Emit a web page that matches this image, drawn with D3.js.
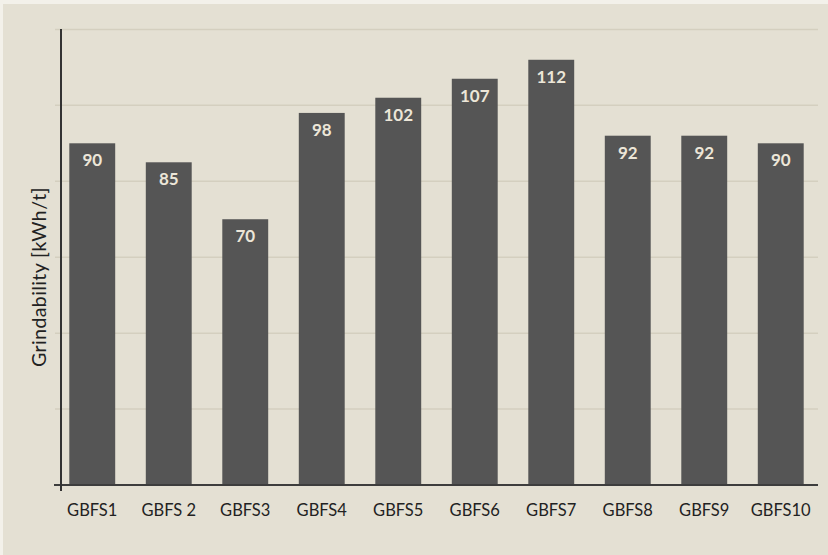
<!DOCTYPE html>
<html>
<head>
<meta charset="utf-8">
<script src="https://cdn.jsdelivr.net/npm/d3@7"></script>
<style>
  html, body { margin: 0; padding: 0; background: #e4e0d3; }
  svg { display: block; }
</style>
</head>
<body>
<svg id="chart" width="828" height="555"></svg>
<script>
// Grindability of each sample
const categories = ["GBFS1", "GBFS 2", "GBFS3", "GBFS4", "GBFS5", "GBFS6", "GBFS7", "GBFS8", "GBFS9", "GBFS10"];
const values = [90, 85, 70, 98, 102, 107, 112, 92, 92, 90];
const gridValues = [20, 40, 60, 80, 100, 120];
const yTitle = "Grindability [kWh/t]";

const svg = d3.select("#chart");
const W = 828, H = 555;

// frame
svg.append("rect").attr("width", W).attr("height", H).attr("fill", "#e4e0d3");
svg.append("rect").attr("x", 0).attr("y", 0).attr("width", W).attr("height", 4).attr("fill", "#f3f1ea");
svg.append("rect").attr("x", 0).attr("y", 0).attr("width", 3).attr("height", H).attr("fill", "#f3f1ea");

const x = d3.scaleBand().domain(categories).range([54, 819]).paddingInner(0.4).paddingOuter(0.2);
const y = d3.scaleLinear().domain([0, 120]).range([485, 29.4]);

// gridlines
svg.append("g").selectAll("line").data(gridValues).join("line")
  .attr("x1", 55).attr("x2", 818)
  .attr("y1", d => y(d)).attr("y2", d => y(d))
  .attr("stroke", "#d4cfbf").attr("stroke-width", 1.5);

// bars
svg.append("g").selectAll("rect").data(values).join("rect")
  .attr("x", (d, i) => x(categories[i]))
  .attr("y", d => y(d))
  .attr("width", x.bandwidth())
  .attr("height", d => y(0) - y(d))
  .attr("fill", "#555555");

// value labels
svg.append("g").selectAll("text").data(values).join("text")
  .attr("x", (d, i) => x(categories[i]) + x.bandwidth() / 2)
  .attr("y", d => y(d) + 23)
  .attr("text-anchor", "middle")
  .attr("font-family", "Lato, 'Open Sans', sans-serif")
  .attr("font-weight", "bold")
  .attr("font-size", 17)
  .attr("fill", "#ece6d8")
  .text(d => d);

// baseline (x axis)
const xAxis = d3.axisBottom(x).tickSize(0).tickPadding(19);
const gx = svg.append("g").attr("transform", `translate(0,${y(0)})`).call(xAxis);
gx.select(".domain").attr("d", "M54,0H818").attr("stroke", "#3d3d3d").attr("stroke-width", 2);
gx.selectAll("text")
  .attr("font-family", "Lato, 'Open Sans', sans-serif")
  .attr("font-size", 16.5)
  .attr("fill", "#222");

// vertical axis line
svg.append("line")
  .attr("x1", 61).attr("x2", 61)
  .attr("y1", 29).attr("y2", 491)
  .attr("stroke", "#333").attr("stroke-width", 2);

// axis title
svg.append("text")
  .attr("transform", "translate(46,277) rotate(-90)")
  .attr("text-anchor", "middle")
  .attr("font-family", "Lato, 'Open Sans', sans-serif")
  .attr("font-size", 19.5)
  .attr("letter-spacing", 0.4)
  .attr("fill", "#222")
  .text(yTitle);
</script>
</body>
</html>
